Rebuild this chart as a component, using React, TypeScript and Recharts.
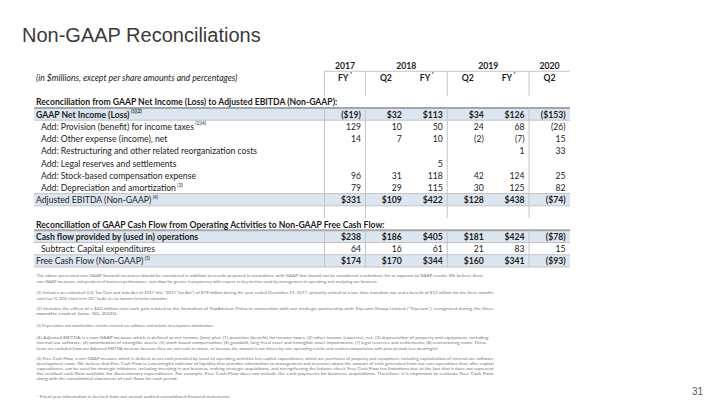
import { ScatterChart, Scatter, XAxis, YAxis, ReferenceArea, ReferenceLine } from 'recharts'

// periods across the top of the table
const periodYears = ['2017', '2018', '2018', '2019', '2019', '2020']
const periods = ['FY*', 'Q2', 'FY*', 'Q2', 'FY*', 'Q2']

// Reconciliation to Adjusted EBITDA ($ millions)
const netIncome = [-19, 32, 113, 34, 126, -153]
const incomeTaxes = [129, 10, 50, 24, 68, -26]
const otherExpense = [14, 7, 10, -2, -7, 15]
const restructuring = [null, null, null, null, 1, 33]
const legalReserves = [null, null, 5, null, null, null]
const stockComp = [96, 31, 118, 42, 124, 25]
const depreciation = [79, 29, 115, 30, 125, 82]
const adjustedEbitda = [331, 109, 422, 128, 438, -74]

// Reconciliation to Free Cash Flow ($ millions)
const cashFromOps = [238, 186, 405, 181, 424, -78]
const capex = [64, 16, 61, 21, 83, 15]
const freeCashFlow = [174, 170, 344, 160, 341, -93]

type Row = {
  kind: 'years' | 'periods' | 'blank' | 'heading' | 'total' | 'item'
  label?: string
  sup?: string
  values?: (number | null)[]
  bold?: boolean
  dollar?: boolean
}

const ROWS: Row[] = [
  { kind: 'years' },
  { kind: 'periods', label: '(in $millions, except per share amounts and percentages)' },
  { kind: 'blank' },
  { kind: 'heading', label: 'Reconciliation from GAAP Net Income (Loss) to Adjusted EBITDA (Non-GAAP):' },
  { kind: 'total', label: 'GAAP Net Income (Loss)', sup: '(1)(2)', values: netIncome, bold: true, dollar: true },
  { kind: 'item', label: 'Add: Provision (benefit) for income taxes', sup: '(1)(4)', values: incomeTaxes },
  { kind: 'item', label: 'Add: Other expense (income), net', values: otherExpense },
  { kind: 'item', label: 'Add: Restructuring and other related reorganization costs', values: restructuring },
  { kind: 'item', label: 'Add: Legal reserves and settlements', values: legalReserves },
  { kind: 'item', label: 'Add: Stock-based compensation expense', values: stockComp },
  { kind: 'item', label: 'Add: Depreciation and amortization', sup: '(3)', values: depreciation },
  { kind: 'total', label: 'Adjusted EBITDA (Non-GAAP)', sup: '(4)', values: adjustedEbitda, dollar: true },
  { kind: 'blank' },
  { kind: 'heading', label: 'Reconciliation of GAAP Cash Flow from Operating Activities to Non-GAAP Free Cash Flow:' },
  { kind: 'total', label: 'Cash flow provided by (used in) operations', values: cashFromOps, bold: true, dollar: true },
  { kind: 'item', label: 'Subtract: Capital expenditures', values: capex },
  { kind: 'total', label: 'Free Cash Flow (Non-GAAP)', sup: '(5)', values: freeCashFlow, dollar: true },
]

const FOOTNOTES: [string, number, number][] = [
  ['The above presented non-GAAP financial measures should be considered in addition to results prepared in accordance with GAAP, but should not be considered a substitute for or superior to GAAP results. We believe these', 275.7, 447],
  ['non-GAAP measures, independent of business performance, and allow for greater transparency with respect to key metrics used by management in operating and analyzing our business.', 281, 341],
  ['(1) Includes an estimated U.S. Tax Cuts and Jobs Act of 2017 (the "2017 Tax Act") of $78 million during the year ended December 31, 2017, primarily related to a one-time transition tax, and a benefit of $12 million for the three months', 292.7, 457],
  ['ended June 30, 2018, related to the 2017 Tax Act. See the footnotes for further information.', 298.3, 131],
  ['(2) Includes the effect of a $40 million non-cash gain related to the formation of TripAdvisor China in connection with our strategic partnership with Trip.com Group Limited ("Trip.com"), recognized during the three', 308.3, 457],
  ['months ended June 30, 2020.', 313.3, 81],
  ['(3) Depreciation and amortization, includes internal use software and website development amortization.', 325, 177],
  ['(4) Adjusted EBITDA is a non-GAAP measure which is defined as net income (loss) plus: (1) provision (benefit) for income taxes; (2) other income (expense), net; (3) depreciation of property and equipment, including', 337, 452],
  ['internal use software; (4) amortization of intangible assets; (5) stock-based compensation; (6) goodwill, long-lived asset and intangible asset impairments; (7) legal reserves and settlements; (8) restructuring costs. These', 342.5, 450],
  ['items are excluded from our Adjusted EBITDA measure because they are non-cash in nature, or because the amount is not driven by core operating results and renders comparisons with prior periods less meaningful.', 348, 402],
  ['(5) Free Cash Flow, a non-GAAP measure which is defined as net cash provided by (used in) operating activities less capital expenditures, which are purchases of property and equipment, including capitalization of internal use software', 358.3, 457],
  ['development costs. We believe that Free Cash Flow is a meaningful indicator of liquidity that provides information to management and investors about the amount of cash generated from our core operations that, after capital', 363.3, 457],
  ['expenditures, can be used for strategic initiatives, including investing in our business, making strategic acquisitions, and strengthening the balance sheet. Free Cash Flow has limitations due to the fact that it does not represent', 368.3, 457],
  ['the residual cash flow available for discretionary expenditures. For example, Free Cash Flow does not include the cash payments for business acquisitions. Therefore, it is important to evaluate Free Cash Flow', 373.3, 457],
  ['along with the consolidated statements of cash flows for each period.', 378.3, 141],
  ['* Fiscal year information is derived from our annual audited consolidated financial statements.', 396.7, 194],
]

const X_MIN = -7.1
const X_MAX = periods.length
const FONT = 'Lato, "Noto Sans", sans-serif'
const SQUEEZE = 0.96
const BAND = '#dce6f1'
const GRID = '#c3c3c3'

type Cell = {
  col: number
  row: number
  text: string
  sup?: string
  kind: 'year' | 'period' | 'units' | 'heading' | 'label' | 'value'
  bold?: boolean
  indent?: boolean
}

const fmt = (v: number | null, dollar?: boolean) => {
  if (v == null) return ''
  const s = (dollar ? '$' : '') + Math.abs(v)
  return v < 0 ? `(${s})` : s
}

const cells: Cell[] = []
// year headers, centered over their periods
let start = 0
for (let i = 1; i <= periodYears.length; i++) {
  if (i === periodYears.length || periodYears[i] !== periodYears[start]) {
    cells.push({ col: (start + i) / 2, row: 0, text: periodYears[start], kind: 'year' })
    start = i
  }
}
ROWS.forEach((r, row) => {
  if (r.kind === 'periods') {
    periods.forEach((p, i) => {
      const star = p.endsWith('*')
      cells.push({ col: i + 0.5, row, text: star ? p.slice(0, -1) : p, sup: star ? '*' : undefined, kind: 'period' })
    })
    cells.push({ col: X_MIN, row, text: r.label!, kind: 'units' })
  } else if (r.kind === 'heading') {
    cells.push({ col: X_MIN, row, text: r.label!, kind: 'heading' })
  } else if (r.kind === 'total' || r.kind === 'item') {
    cells.push({ col: X_MIN, row, text: r.label!, sup: r.sup, kind: 'label', bold: r.bold, indent: r.kind === 'item' })
    r.values!.forEach((v, i) => {
      if (v != null) cells.push({ col: i + 0.5, row, text: fmt(v, r.dollar), kind: 'value', bold: r.kind === 'total' })
    })
  }
})

// vertical rules at each year boundary
const yearEdges = [0]
periodYears.forEach((y, i) => {
  if (i > 0 && y !== periodYears[i - 1]) yearEdges.push(i)
})
const headingRows = ROWS.map((r, i) => (r.kind === 'heading' ? i : -1)).filter((i) => i >= 0)
const lastRow = ROWS.length - 1

function CellText(props: any) {
  const { cx, cy, payload } = props
  const c = payload as Cell
  if (cx == null || cy == null) return null
  let x = cx
  let anchor: 'start' | 'middle' | 'end' = 'start'
  let weight = 400
  let style = 'normal'
  switch (c.kind) {
    case 'year':
    case 'period':
      anchor = 'middle'
      weight = 700
      break
    case 'units':
      x = cx + 2
      style = 'italic'
      break
    case 'heading':
      x = cx + 2
      weight = 700
      break
    case 'label':
      x = cx + (c.indent ? 7 : 2)
      weight = c.bold ? 700 : 400
      break
    case 'value':
      x = cx + 16
      anchor = 'end'
      weight = c.bold ? 700 : 400
      break
  }
  return (
    <text
      transform={`translate(${x},${cy}) scale(${SQUEEZE},1)`}
      textAnchor={anchor}
      dominantBaseline="central"
      fontFamily={FONT}
      fontSize={9}
      fontWeight={weight}
      fontStyle={style}
      fill="#1c1c1c"
    >
      {c.text}
      {c.sup && (
        <tspan fontSize={5} dy={-3} dx={1.5}>
          {c.sup}
        </tspan>
      )}
    </text>
  )
}

export default function App() {
  return (
    <div style={{ position: 'absolute', left: 0, top: 0, width: 720, height: 405, background: '#fff' }}>
      <svg width={720} height={405} style={{ position: 'absolute', left: 0, top: 0 }}>
        <text x={22} y={41.7} fontFamily='"Liberation Sans", Arial, sans-serif' fontSize={20} fill="#3a3a3a">
          Non-GAAP Reconciliations
        </text>
        {FOOTNOTES.map(([t, y, w], i) => (
          <text
            key={i}
            x={36.5}
            y={y}
            dominantBaseline="central"
            fontFamily={FONT}
            fontSize={4}
            fill="#767676"
            textLength={w}
            lengthAdjust="spacingAndGlyphs"
          >
            {t}
          </text>
        ))}
        <text x={703} y={395} textAnchor="end" fontFamily='"Liberation Sans", Arial, sans-serif' fontSize={10} fill="#555">
          31
        </text>
      </svg>
      <div style={{ position: 'absolute', left: 0, top: 0 }}>
        <ScatterChart width={720} height={405} margin={{ top: 59, right: 150, bottom: 138, left: 34 }}>
          <XAxis type="number" dataKey="col" domain={[X_MIN, X_MAX]} allowDataOverflow hide />
          <YAxis type="number" dataKey="row" domain={[-0.5, ROWS.length - 0.5]} allowDataOverflow reversed hide width={0} />
          {ROWS.map((r, i) =>
            r.kind === 'total' ? (
              <ReferenceArea key={`b${i}`} x1={X_MIN} x2={X_MAX} y1={i - 0.5} y2={i + 0.5} fill={BAND} fillOpacity={1} stroke="none" />
            ) : null
          )}
          {ROWS.map((r, i) =>
            r.kind === 'total'
              ? [i - 0.5, i + 0.5]
                  .filter((y) => !headingRows.includes(y - 0.5))
                  .map((y) => (
                    <ReferenceLine key={`h${i}-${y}`} segment={[{ x: X_MIN, y }, { x: X_MAX, y }]} stroke={GRID} strokeWidth={1} />
                  ))
              : null
          )}
          {headingRows.map((h) => (
            <ReferenceLine key={`t${h}`} segment={[{ x: X_MIN, y: h + 0.5 }, { x: X_MAX, y: h + 0.5 }]} stroke="#a6a6a6" strokeWidth={2} />
          ))}
          <ReferenceLine segment={[{ x: 0, y: 0.5 }, { x: X_MAX, y: 0.5 }]} stroke={GRID} strokeWidth={1} />
          {yearEdges.map((e) =>
            [
              [0.5, headingRows[0] - 0.5],
              [headingRows[0] + 0.5, headingRows[1] - 0.5],
              [headingRows[1] + 0.5, lastRow + 0.5],
            ].map(([y1, y2], k) => (
              <ReferenceLine key={`v${e}-${k}`} segment={[{ x: e, y: y1 }, { x: e, y: y2 }]} stroke={GRID} strokeWidth={1} />
            ))
          )}
          <Scatter data={cells} dataKey="row" shape={CellText} isAnimationActive={false} />
        </ScatterChart>
      </div>
    </div>
  )
}
